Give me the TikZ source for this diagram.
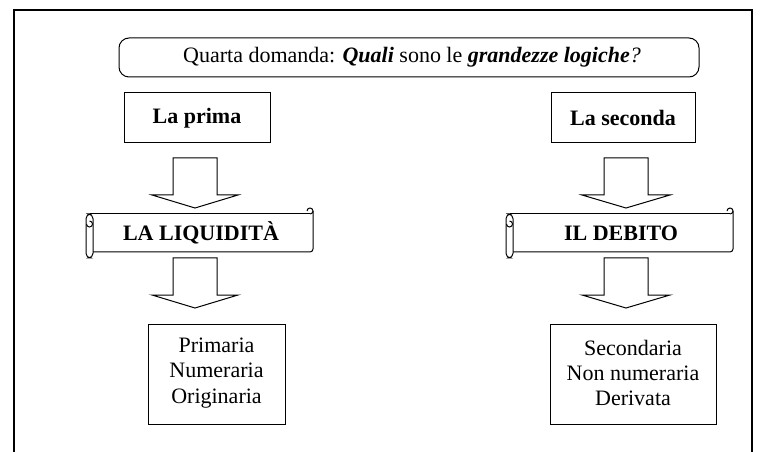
\documentclass[tikz,border=0pt]{standalone}
\usepackage{fontspec}
\setmainfont{Liberation Serif}

\begin{document}
\begin{tikzpicture}[x=0.75pt,y=0.75pt,yscale=-1,xscale=1,
  txt/.style={inner sep=0.75pt,font=\fontsize{16.5}{19}\selectfont,align=center},
  blockarrow/.style={draw,line width=0.75pt,fill=white}]
\useasboundingbox (0,0) rectangle (767,452);

%Frame (open at the bottom)
\draw [line width=1pt] (14,452) -- (14,10) -- (752,10) -- (752,452) ;

%Rounded Rect: question
\draw [line width=0.75pt, rounded corners=7.5pt] (119,38) rectangle (699,77) ;
\node (question) [txt] at (412,57.5) {Quarta domanda: \textbf{\textit{Quali}} sono le \textbf{\textit{grandezze logiche}}\textit{?}};

%Shape: Rectangle - first and second
\draw [line width=0.75pt] (124,93) rectangle (270,143) ;
\node (prima) [txt] at (197,118) {\textbf{La prima}};
\draw [line width=0.75pt] (551,93) rectangle (695,143) ;
\node (seconda) [txt] at (623,118) {\textbf{La seconda}};

%Shape: Down Arrow - left, upper
\draw [blockarrow] (173,158) -- (217,158) -- (217,195) -- (238,195) -- (195,208) -- (152,195) -- (173,195) -- cycle ;
%Shape: Down Arrow - right, upper
\draw [blockarrow] (604,158) -- (648,158) -- (648,195) -- (670,195) -- (626,208) -- (582,195) -- (604,195) -- cycle ;

%Shape: Horizontal Scroll - left
\draw [line width=0.75pt] (89.5,214) -- (310,214) ;
\draw [line width=0.75pt] (310,214) arc (90:-180:3) ;
\draw [line width=0.75pt] (313,211) -- (313,249) arc (0:90:3) -- (93,252) ;
\draw [line width=0.75pt, rounded corners=3.5pt] (86,214) rectangle (93,258) ;
\draw [line width=0.75pt] (89.5,221) arc (-90:180:3) ;
\node (liquidita) [txt] at (201,233) {\textbf{LA LIQUIDITÀ}};

%Shape: Horizontal Scroll - right
\draw [line width=0.75pt] (509.5,214) -- (730,214) ;
\draw [line width=0.75pt] (730,214) arc (90:-180:3) ;
\draw [line width=0.75pt] (733,211) -- (733,249) arc (0:90:3) -- (513,252) ;
\draw [line width=0.75pt, rounded corners=3.5pt] (506,214) rectangle (513,258) ;
\draw [line width=0.75pt] (509.5,221) arc (-90:180:3) ;
\node (debito) [txt] at (621,233) {\textbf{IL DEBITO}};

%Shape: Down Arrow - left, lower
\draw [blockarrow] (173,258) -- (217,258) -- (217,295) -- (238,295) -- (195,308) -- (152,295) -- (173,295) -- cycle ;
%Shape: Down Arrow - right, lower
\draw [blockarrow] (604,258) -- (648,258) -- (648,295) -- (670,295) -- (626,308) -- (582,295) -- (604,295) -- cycle ;

%Shape: Rectangle - features
\draw [line width=0.75pt] (148,324) rectangle (285,424) ;
\node (primaria) [txt] at (216.5,373) {Primaria\\Numeraria\\Originaria};
\draw [line width=0.75pt] (550,324) rectangle (716,424) ;
\node (secondaria) [txt] at (633,373) {Secondaria\\Non numeraria\\Derivata};

\end{tikzpicture}
\end{document}
